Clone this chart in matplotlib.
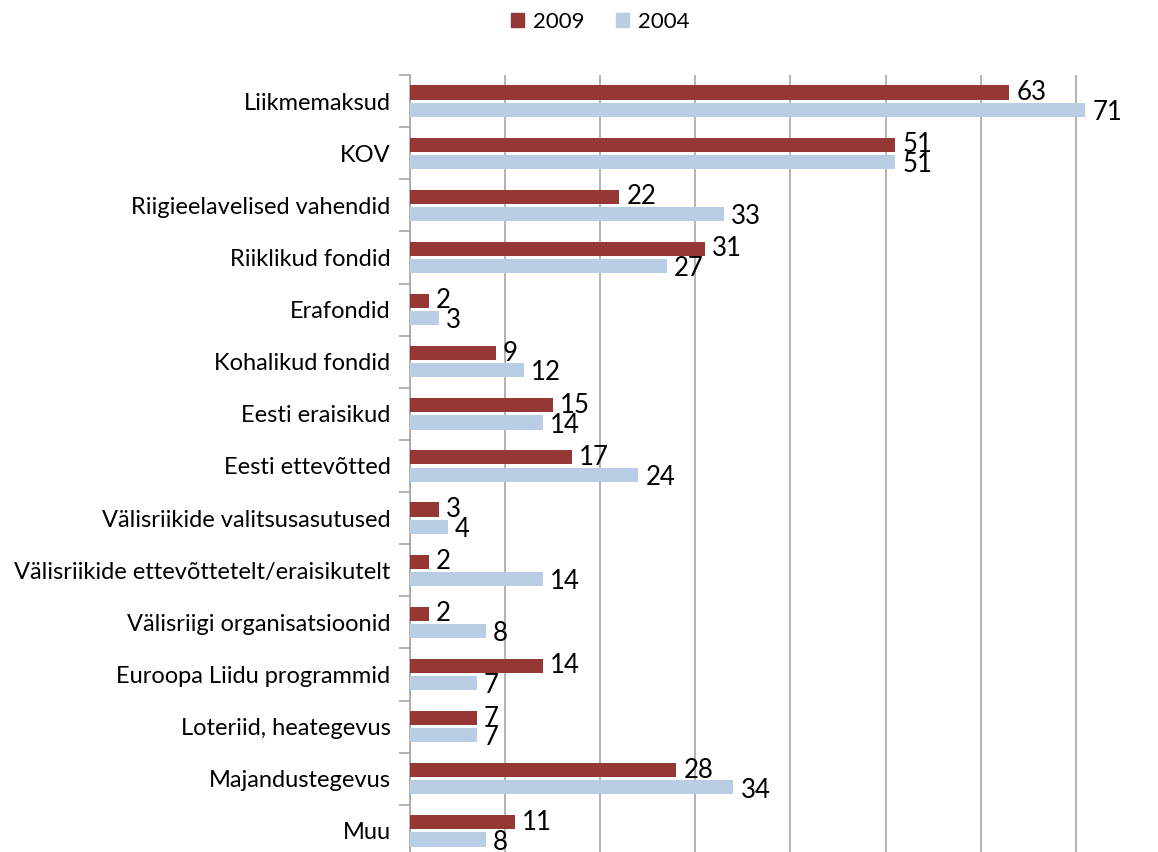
import matplotlib
matplotlib.use("Agg")
import matplotlib.pyplot as plt
import numpy as np
from matplotlib.patches import Patch

categories = ["Liikmemaksud", "KOV", "Riigieelavelised vahendid", "Riiklikud fondid",
              "Erafondid", "Kohalikud fondid", "Eesti eraisikud", "Eesti ettevõtted",
              "Välisriikide valitsusasutused", "Välisriikide ettevõttetelt/eraisikutelt",
              "Välisriigi organisatsioonid", "Euroopa Liidu programmid",
              "Loteriid, heategevus", "Majandustegevus", "Muu"]
v2009 = [63, 51, 22, 31, 2, 9, 15, 17, 3, 2, 2, 14, 7, 28, 11]
v2004 = [71, 51, 33, 27, 3, 12, 14, 24, 4, 14, 8, 7, 7, 34, 8]
series_names = ["2009", "2004"]
colors = ["#953735", "#B9CDE5"]

plt.rcParams['font.family'] = ['Lato', 'DejaVu Sans']

fig = plt.figure(figsize=(11.58, 8.52), dpi=100)
W, H = 1158, 852
x0, x1 = 410, 410 + 80 * 9.51
y0, y1 = 75, 857
ax = fig.add_axes([x0 / W, 1 - y1 / H, (x1 - x0) / W, (y1 - y0) / H])

n = len(categories)
y = np.arange(n)
h = 0.27
off = 0.165
ax.barh(y - off, v2009, height=h, color=colors[0], zorder=3)
ax.barh(y + off, v2004, height=h, color=colors[1], zorder=3)

for yi, v in zip(y, v2009):
    ax.text(v + 0.75, yi - off, str(v), va='center', ha='left', fontsize=18.5, color='black')
for yi, v in zip(y, v2004):
    ax.text(v + 0.75, yi + off + 0.05, str(v), va='center', ha='left', fontsize=18.5, color='black')

ax.set_ylim(n - 0.5, -0.5)
ax.set_xlim(0, 80)
ax.set_xticks(np.arange(0, 81, 10))
ax.set_xticklabels([])
ax.tick_params(axis='x', length=0)
ax.xaxis.grid(True, color='#A6A6A6', linewidth=1.2, zorder=0)
ax.set_yticks(y)
ax.set_yticklabels(categories, fontsize=17)
ax.tick_params(axis='y', which='major', length=0, pad=14)
ax.set_yticks(np.arange(-0.5, n, 1), minor=True)
ax.tick_params(axis='y', which='minor', length=8, color='#A6A6A6', width=1.2)
for s in ['top', 'right', 'bottom']:
    ax.spines[s].set_visible(False)
ax.spines['left'].set_color('#A6A6A6')
ax.spines['left'].set_linewidth(1.2)

handles = [Patch(color=c, label=l) for c, l in zip(colors, series_names)]
fig.legend(handles=handles, loc='center', bbox_to_anchor=(600 / W, 1 - 22 / H), ncol=2,
           frameon=False, fontsize=16, handlelength=0.6, handleheight=0.6,
           handletextpad=0.4, columnspacing=1.4)

fig.savefig("out.png", dpi=100)
